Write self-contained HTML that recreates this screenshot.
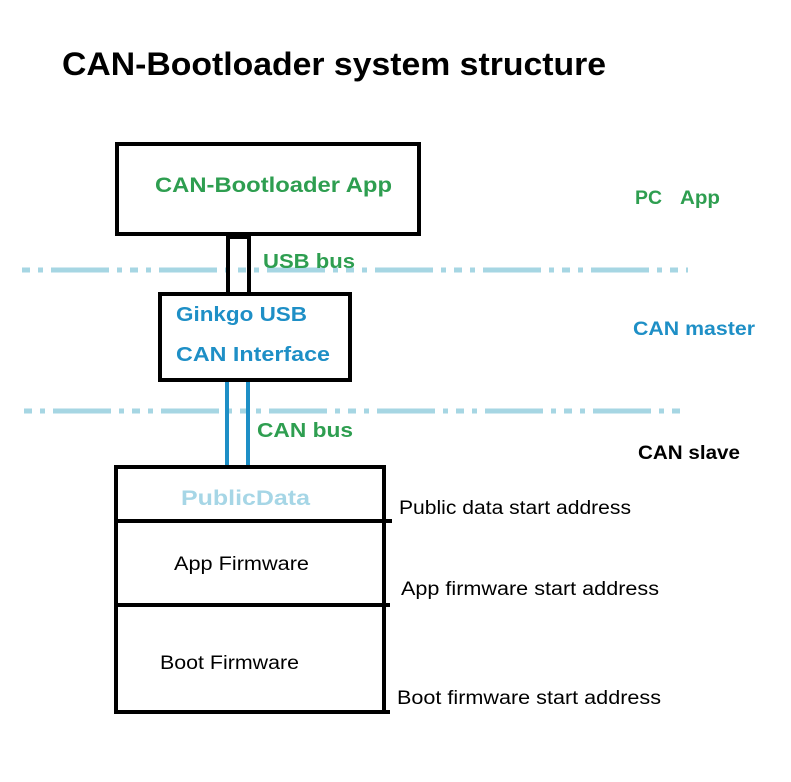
<!DOCTYPE html>
<html><head><meta charset="utf-8"><style>
body{margin:0;background:#fff;width:791px;height:777px;overflow:hidden}
</style></head><body>
<svg width="791" height="777" xmlns="http://www.w3.org/2000/svg" font-family="Liberation Sans, sans-serif">
<rect width="791" height="777" fill="#fff"/>
<text x="62" y="75" font-size="32" font-weight="bold" fill="#000" textLength="544" lengthAdjust="spacingAndGlyphs">CAN-Bootloader system structure</text>
<line x1="22" y1="270" x2="688" y2="270" stroke="#a6d6e3" stroke-width="5" stroke-dasharray="8,8,5,8,58,8,5,8"/>
<line x1="24" y1="411" x2="688" y2="411" stroke="#a6d6e3" stroke-width="5" stroke-dasharray="8,8,5,8,58,8,5,8"/>
<rect x="117" y="144" width="302" height="90" fill="none" stroke="#000" stroke-width="4"/>
<text x="155" y="192" font-size="21" font-weight="bold" fill="#2e9e50" textLength="237" lengthAdjust="spacingAndGlyphs">CAN-Bootloader App</text>
<line x1="228" y1="236" x2="228" y2="293" stroke="#000" stroke-width="4"/>
<line x1="249" y1="236" x2="249" y2="293" stroke="#000" stroke-width="4"/>
<line x1="226" y1="237" x2="251" y2="237" stroke="#000" stroke-width="4"/>
<text x="263" y="268" font-size="20" font-weight="bold" fill="#2e9e50" textLength="92" lengthAdjust="spacingAndGlyphs">USB bus</text>
<rect x="160" y="294" width="190" height="86" fill="none" stroke="#000" stroke-width="4"/>
<text x="176" y="321" font-size="20" font-weight="bold" fill="#1e8fc6" textLength="131" lengthAdjust="spacingAndGlyphs">Ginkgo USB</text>
<text x="176" y="361" font-size="20" font-weight="bold" fill="#1e8fc6" textLength="154" lengthAdjust="spacingAndGlyphs">CAN Interface</text>
<line x1="227" y1="382" x2="227" y2="469" stroke="#1e8fc6" stroke-width="4"/>
<line x1="248" y1="382" x2="248" y2="469" stroke="#1e8fc6" stroke-width="4"/>
<text x="257" y="437" font-size="20" font-weight="bold" fill="#2e9e50" textLength="96" lengthAdjust="spacingAndGlyphs">CAN bus</text>
<text x="635" y="204" font-size="19" font-weight="bold" fill="#2e9e50" textLength="27" lengthAdjust="spacingAndGlyphs">PC</text>
<text x="680" y="204" font-size="19" font-weight="bold" fill="#2e9e50" textLength="40" lengthAdjust="spacingAndGlyphs">App</text>
<text x="633" y="335" font-size="19" font-weight="bold" fill="#1e8fc6" textLength="122" lengthAdjust="spacingAndGlyphs">CAN master</text>
<text x="638" y="459" font-size="19" font-weight="bold" fill="#000" textLength="102" lengthAdjust="spacingAndGlyphs">CAN slave</text>
<rect x="116" y="467" width="268" height="245" fill="none" stroke="#000" stroke-width="4"/>
<line x1="116" y1="521" x2="392" y2="521" stroke="#000" stroke-width="4"/>
<line x1="116" y1="605" x2="390" y2="605" stroke="#000" stroke-width="4"/>
<line x1="116" y1="712" x2="390" y2="712" stroke="#000" stroke-width="4"/>
<text x="181" y="505" font-size="21" font-weight="bold" fill="#a6d6e6" textLength="129" lengthAdjust="spacingAndGlyphs">PublicData</text>
<text x="174" y="570" font-size="19" fill="#000" textLength="135" lengthAdjust="spacingAndGlyphs">App Firmware</text>
<text x="160" y="669" font-size="19" fill="#000" textLength="139" lengthAdjust="spacingAndGlyphs">Boot Firmware</text>
<text x="399" y="514" font-size="19" fill="#000" textLength="232" lengthAdjust="spacingAndGlyphs">Public data start address</text>
<text x="401" y="595" font-size="19" fill="#000" textLength="258" lengthAdjust="spacingAndGlyphs">App firmware start address</text>
<text x="397" y="704" font-size="19" fill="#000" textLength="264" lengthAdjust="spacingAndGlyphs">Boot firmware start address</text>
</svg>
</body></html>
